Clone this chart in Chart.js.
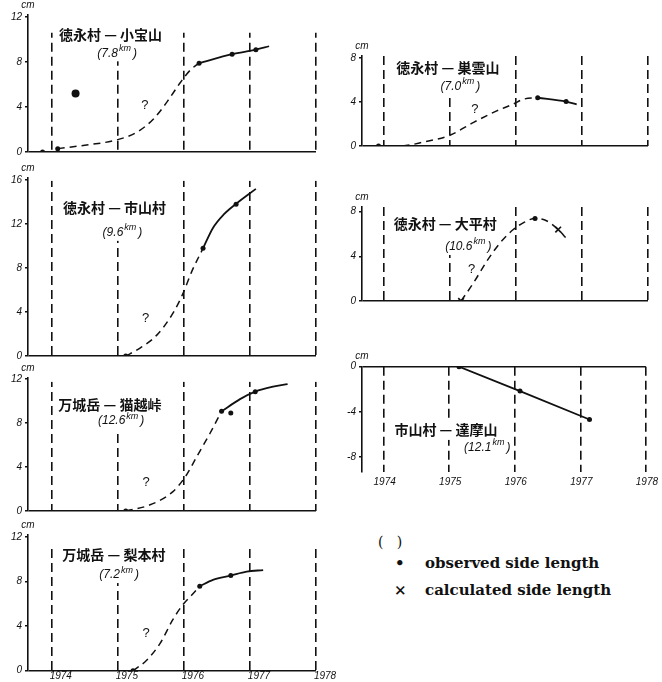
<!DOCTYPE html>
<html>
<head>
<meta charset="utf-8">
<script src="https://cdn.jsdelivr.net/npm/chart.js@4.4.1/dist/chart.umd.min.js"></script>
<style>
html, body { margin: 0; padding: 0; background: #fff; }
#fig { position: relative; width: 662px; height: 682px; overflow: hidden; }
#fig canvas { position: absolute; }
.lg { position: absolute; font-family: "DejaVu Serif", serif; font-weight: bold; font-size: 15px; line-height: 18px; color: #111; white-space: nowrap; }
</style>
</head>
<body>
<div id="fig">
  <div class="lg" style="left:378px;top:533px;font-weight:normal;font-size:14px">(&nbsp;&nbsp;&nbsp;)</div>
  <div class="lg" style="left:395px;top:554px">•</div>
  <div class="lg" style="left:425px;top:554px">observed side length</div>
  <div class="lg" style="left:394px;top:581px">×</div>
  <div class="lg" style="left:425px;top:581px">calculated side length</div>
</div>
<script>
// annees (lignes verticales en tirets)
const years = [1974, 1975, 1976, 1977, 1978];

// 徳永村 — 小宝山
const p1ObsX = [1973.86, 1974.09, 1976.23, 1976.73, 1977.09];
const p1ObsY = [0, 0.3, 7.9, 8.7, 9.1];
const p1OddX = [1974.36];
const p1OddY = [5.2];
const p1DashX = [1974.09, 1974.5, 1975.0, 1975.3, 1975.55, 1975.75, 1975.95, 1976.1, 1976.23];
const p1DashY = [0.3, 0.6, 1.1, 1.8, 3.0, 4.5, 6.2, 7.3, 7.9];
const p1LineX = [1976.23, 1976.73, 1977.09, 1977.29];
const p1LineY = [7.9, 8.7, 9.1, 9.4];
const p1Ticks = [0, 4, 8, 12];

// 徳永村 — 市山村
const p2ObsX = [1975.12, 1976.29, 1976.79];
const p2ObsY = [0, 9.8, 13.8];
const p2DashX = [1975.12, 1975.33, 1975.59, 1975.83, 1975.98, 1976.12, 1976.29];
const p2DashY = [0, 0.7, 1.9, 3.85, 5.6, 7.7, 9.8];
const p2LineX = [1976.29, 1976.44, 1976.6, 1976.79, 1977.09];
const p2LineY = [9.8, 11.65, 12.85, 13.84, 15.2];
const p2Ticks = [0, 4, 8, 12, 16];

// 万城岳 — 猫越峠
const p3ObsX = [1975.12, 1976.57, 1976.71, 1977.08];
const p3ObsY = [0, 9.06, 8.9, 10.85];
const p3DashX = [1975.12, 1975.48, 1975.83, 1976.02, 1976.2, 1976.39, 1976.57];
const p3DashY = [0, 0.54, 1.74, 3.1, 5.0, 7.0, 9.06];
const p3LineX = [1976.57, 1976.85, 1977.08, 1977.35, 1977.57];
const p3LineY = [9.06, 10.17, 10.85, 11.3, 11.54];
const p3Ticks = [0, 4, 8, 12];

// 万城岳 — 梨本村
const p4ObsX = [1975.23, 1976.24, 1976.71];
const p4ObsY = [0, 7.6, 8.55];
const p4DashX = [1975.23, 1975.44, 1975.64, 1975.83, 1975.98, 1976.12, 1976.24];
const p4DashY = [0, 0.96, 2.46, 4.56, 5.9, 6.8, 7.6];
const p4LineX = [1976.24, 1976.44, 1976.71, 1976.95, 1977.2];
const p4LineY = [7.6, 8.16, 8.55, 8.9, 9.05];
const p4Ticks = [0, 4, 8, 12];

// 徳永村 — 巣雲山
const p5ObsX = [1973.92, 1976.33, 1976.76];
const p5ObsY = [0, 4.4, 4.05];
const p5DashX = [1973.92, 1974.25, 1974.6, 1975.01, 1975.36, 1975.71, 1975.95, 1976.11, 1976.33];
const p5DashY = [0, 0, 0.36, 1.0, 2.16, 3.2, 3.8, 4.26, 4.4];
const p5LineX = [1976.33, 1976.76, 1976.92];
const p5LineY = [4.4, 4.05, 3.8];
const p5Ticks = [0, 4, 8];

// 徳永村 — 大平村
const p6ObsX = [1976.29];
const p6ObsY = [7.4];
const p6CalcX = [1975.17, 1976.64];
const p6CalcY = [0, 6.4];
const p6DashX = [1975.17, 1975.36, 1975.56, 1975.76, 1975.96, 1976.11, 1976.29, 1976.47, 1976.64, 1976.78];
const p6DashY = [0, 1.64, 3.57, 5.2, 6.4, 7.0, 7.4, 7.17, 6.4, 5.5];
const p6Ticks = [0, 4, 8];

// 市山村 — 達摩山
const p7ObsX = [1975.15, 1976.08, 1977.14];
const p7ObsY = [0, -2.16, -4.68];
const p7Ticks = [0, -4, -8];

const INK = '#111';

function pts(xs, ys) {
    return xs.map((x, i) => ({ x: x, y: ys[i] }));
}
function dots(xs, ys, r) {
    return { data: pts(xs, ys), showLine: false, pointStyle: 'circle', pointRadius: r,
             pointBackgroundColor: INK, pointBorderColor: INK, pointBorderWidth: 0 };
}
function crosses(xs, ys) {
    return { data: pts(xs, ys), showLine: false, pointStyle: 'crossRot', pointRadius: 4,
             pointBorderColor: INK, pointBorderWidth: 1.6 };
}
function dashed(xs, ys) {
    return { data: pts(xs, ys), borderColor: INK, borderWidth: 1.5, borderDash: [7, 5],
             pointRadius: 0, cubicInterpolationMode: 'monotone', fill: false };
}
function solid(xs, ys, straight) {
    return { data: pts(xs, ys), borderColor: INK, borderWidth: 1.8, pointRadius: 0,
             cubicInterpolationMode: straight ? 'default' : 'monotone', tension: 0, fill: false };
}

const TITLE_FONT = 'bold 14px "Noto Sans CJK JP"';
const DIST_FONT = 'italic 12px "Liberation Sans"';
const SUP_FONT = 'italic 9px "Liberation Sans"';

// textes du panneau: titre, distance (km en exposant), "?" et "cm"
const notes = {
    id: 'notes',
    beforeDatasetsDraw(chart, args, o) {
        const ctx = chart.ctx, xs = chart.scales.x, ys = chart.scales.y, a = chart.chartArea;
        ctx.save();

        // mesures
        ctx.font = TITLE_FONT;
        const tx = xs.getPixelForValue(o.titleAt[0]);
        const ty = ys.getPixelForValue(o.titleAt[1]);
        const tw = ctx.measureText(o.title).width;

        const head = '(' + o.dist, tail = ')';
        ctx.font = DIST_FONT;
        const w1 = ctx.measureText(head).width, w3 = ctx.measureText(tail).width;
        ctx.font = SUP_FONT;
        const w2 = ctx.measureText('km').width + 3;
        const dw = w1 + w2 + w3;
        const dx0 = xs.getPixelForValue(o.distAt[0]) - dw / 2;
        const dy = ys.getPixelForValue(o.distAt[1]);

        // fonds blancs d'abord (coupent les tirets verticaux)
        ctx.fillStyle = '#fff';
        if (o.gap) {
            ctx.fillRect(a.left + 2, a.top - 1, a.right - a.left + 1, o.gap + 1);
        }
        ctx.fillRect(tx - tw / 2 - 2, ty - 10, tw + 4, 20);
        if (o.clearAbove) {
            ctx.fillRect(dx0 - 2, a.top - 1, dw + 4, dy + 9 - a.top);
        } else {
            ctx.fillRect(dx0 - 2, dy - 11, dw + 4, 19);
        }

        // puis les textes
        ctx.fillStyle = INK;
        ctx.textBaseline = 'middle';
        ctx.textAlign = 'center';
        ctx.font = 'italic 10px "Liberation Sans"';
        ctx.fillText('cm', a.left, a.top - 10);

        ctx.font = TITLE_FONT;
        ctx.fillText(o.title, tx, ty);

        ctx.textAlign = 'left';
        ctx.font = DIST_FONT;
        ctx.fillText(head, dx0, dy);
        ctx.font = SUP_FONT;
        ctx.fillText('km', dx0 + w1 + 1, dy - 5);
        ctx.font = DIST_FONT;
        ctx.fillText(tail, dx0 + w1 + w2, dy);

        if (o.askAt) {
            ctx.font = '13px "Liberation Sans"';
            ctx.textAlign = 'center';
            ctx.fillText('?', xs.getPixelForValue(o.askAt[0]), ys.getPixelForValue(o.askAt[1]));
        }
        ctx.restore();
    }
};

const panels = [
    { box: [0, 0, 345, 165], area: [28, 14.75, 316, 152], xMin: 1973.64, yMin: 0, yMax: 12.2, yTicks: p1Ticks,
      gap: 18, clearAbove: true,
      title: '徳永村 — 小宝山', dist: '7.8', titleAt: [1974.89, 10.4], distAt: [1974.99, 8.77], askAt: [1975.41, 4.18],
      sets: [dots(p1OddX, p1OddY, 4), dots(p1ObsX, p1ObsY, 2.5), solid(p1LineX, p1LineY), dashed(p1DashX, p1DashY)] },
    { box: [0, 160, 345, 205], area: [28, 177.9, 316, 357.7], xMin: 1973.64, yMin: 0, yMax: 16.2, yTicks: p2Ticks,
      gap: 3, clearAbove: true,
      title: '徳永村 — 市山村', dist: '9.6', titleAt: [1974.95, 13.46], distAt: [1975.07, 11.2], askAt: [1975.42, 3.4],
      sets: [dots(p2ObsX, p2ObsY, 2.5), solid(p2LineX, p2LineY), dashed(p2DashX, p2DashY)] },
    { box: [0, 362, 345, 158], area: [28, 377.9, 316, 512.7], xMin: 1973.64, yMin: 0, yMax: 12.1, yTicks: p3Ticks,
      gap: 4, clearAbove: true,
      title: '万城岳 — 猫越峠', dist: '12.6', titleAt: [1974.88, 9.67], distAt: [1975.05, 8.17], askAt: [1975.43, 2.64],
      sets: [dots(p3ObsX, p3ObsY, 2.5), solid(p3LineX, p3LineY), dashed(p3DashX, p3DashY)] },
    { box: [0, 518, 345, 164], area: [28, 535, 316, 670.7], xMin: 1973.64, yMin: 0, yMax: 12.2, yTicks: p4Ticks,
      gap: 10, clearAbove: true,
      labels: true, xH: 11, xPad: 0, labelOffset: 9,
      title: '万城岳 — 梨本村', dist: '7.2', titleAt: [1974.94, 10.4], distAt: [1975.02, 8.6], askAt: [1975.43, 3.36],
      sets: [dots(p4ObsX, p4ObsY, 2.5), solid(p4LineX, p4LineY), dashed(p4DashX, p4DashY)] },
    { box: [330, 35, 332, 120], area: [362, 56.1, 648, 147.3], xMin: 1973.67, yMin: 0, yMax: 8.2, yTicks: p5Ticks,
      clearAbove: true,
      title: '徳永村 — 巣雲山', dist: '7.0', titleAt: [1974.97, 7.1], distAt: [1975.16, 5.45], askAt: [1975.38, 3.35],
      sets: [dots(p5ObsX, p5ObsY, 2.5), solid(p5LineX, p5LineY), dashed(p5DashX, p5DashY)] },
    { box: [330, 185, 332, 125], area: [362, 207, 648, 301.7], xMin: 1973.67, yMin: 0, yMax: 8.42, yTicks: p6Ticks,
      clearAbove: true,
      title: '徳永村 — 大平村', dist: '10.6', titleAt: [1974.93, 6.97], distAt: [1975.28, 4.84], askAt: [1975.33, 2.82],
      sets: [dots(p6ObsX, p6ObsY, 2.5), crosses(p6CalcX, p6CalcY), dashed(p6DashX, p6DashY)] },
    { box: [330, 340, 332, 160], area: [362, 366.7, 648, 471.7], xMin: 1973.67, yMin: -9.3, yMax: 0, yTicks: p7Ticks,
      labels: true, xH: 16, xPad: 5, labelOffset: 1,
      title: '市山村 — 達摩山', dist: '12.1', titleAt: [1974.95, -5.6], distAt: [1975.58, -7.13],
      sets: [dots(p7ObsX, p7ObsY, 2.5), solid(p7ObsX, p7ObsY, true)] }
];

const fig = document.getElementById('fig');

panels.forEach(function (p) {
    const [bl, bt, bw, bh] = p.box;
    const xH = p.xH || 0;
    const cv = document.createElement('canvas');
    cv.width = bw;
    cv.height = bh;
    cv.style.left = bl + 'px';
    cv.style.top = bt + 'px';
    cv.style.width = bw + 'px';
    cv.style.height = bh + 'px';
    fig.appendChild(cv);

    new Chart(cv, {
        type: 'line',
        data: { datasets: p.sets },
        options: {
            responsive: false,
            animation: false,
            devicePixelRatio: 1,
            events: [],
            layout: {
                autoPadding: false,
                padding: { left: 0, top: p.area[1] - bt, right: bl + bw - p.area[2], bottom: bt + bh - p.area[3] - xH }
            },
            plugins: {
                legend: { display: false },
                tooltip: { enabled: false },
                notes: { title: p.title, dist: p.dist, titleAt: p.titleAt, distAt: p.distAt, askAt: p.askAt,
                         gap: p.gap || 0, clearAbove: !!p.clearAbove }
            },
            scales: {
                x: {
                    type: 'linear', min: p.xMin, max: 1978,
                    afterBuildTicks: s => { s.ticks = years.map(v => ({ value: v })); },
                    afterFit: s => { s.height = xH; },
                    grid: { color: INK, lineWidth: 1.6, drawTicks: false },
                    border: { display: false, dash: [9, 5] },
                    ticks: { display: !!p.labels, padding: p.xPad || 0, labelOffset: p.labelOffset || 0,
                             color: INK, font: { size: 10, style: 'italic' }, callback: v => String(v) }
                },
                y: {
                    type: 'linear', min: p.yMin, max: p.yMax,
                    afterBuildTicks: s => { s.ticks = p.yTicks.map(v => ({ value: v })); },
                    afterFit: s => { s.width = p.area[0] - bl; },
                    grid: { color: c => (c.tick && c.tick.value === 0) ? INK : 'rgba(0,0,0,0)',
                            lineWidth: 1.6, tickColor: INK, tickLength: 3, drawTicks: true },
                    border: { display: true, color: INK, width: 1.6 },
                    ticks: { padding: 3, color: INK, font: { size: 10, style: 'italic' }, callback: v => String(v) }
                }
            }
        },
        plugins: [notes]
    });
});
</script>
</body>
</html>
